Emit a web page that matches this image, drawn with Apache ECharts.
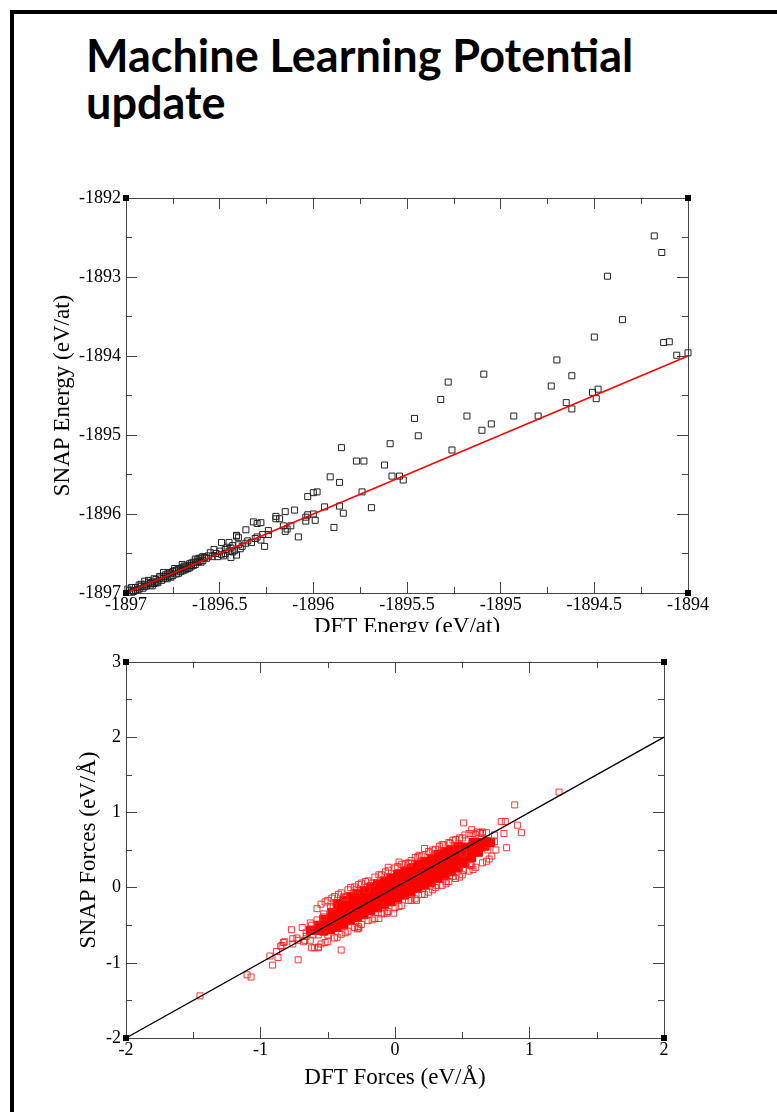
<!DOCTYPE html>
<html>
<head>
<meta charset="utf-8">
<script src="https://cdn.jsdelivr.net/npm/echarts@6/dist/echarts.min.js"></script>
<style>
  html, body { margin: 0; padding: 0; background: #fff; width: 777px; height: 1112px; overflow: hidden; }
  #frame { position: absolute; left: 10px; top: 10px; width: 900px; height: 1200px; border-left: 4px solid #000; border-top: 4px solid #000; }
  #title { position: absolute; left: 86px; top: 32px; font-family: Lato, "Open Sans", sans-serif; font-weight: bold; font-size: 45px; line-height: 47px; color: #000; white-space: nowrap; }
  #c1 { position: absolute; left: 0; top: 180px; width: 777px; height: 452px; }
  #c2 { position: absolute; left: 0; top: 640px; width: 777px; height: 472px; }
</style>
</head>
<body>
<div id="frame"></div>
<div id="title">Machine Learning Potential<br>update</div>
<div id="c1"></div>
<div id="c2"></div>
<script>
// ---------- Energy chart data ----------
const energyXRange = [-1897, -1894];
const energyYRange = [-1897, -1892];
const energyXTitle = 'DFT Energy (eV/at)';
const energyYTitle = 'SNAP Energy (eV/at)';
const energyPoints = [
  [-1896.98,-1896.97],[-1896.96,-1896.98],[-1896.95,-1896.93],[-1896.94,-1896.96],[-1896.92,-1896.92],
  [-1896.91,-1896.94],[-1896.90,-1896.89],[-1896.89,-1896.91],[-1896.88,-1896.87],[-1896.87,-1896.90],
  [-1896.86,-1896.86],[-1896.85,-1896.88],[-1896.84,-1896.83],[-1896.83,-1896.85],[-1896.82,-1896.81],
  [-1896.81,-1896.84],[-1896.80,-1896.79],[-1896.79,-1896.81],[-1896.78,-1896.76],[-1896.77,-1896.79],
  [-1896.76,-1896.75],[-1896.75,-1896.78],[-1896.74,-1896.72],[-1896.73,-1896.76],[-1896.72,-1896.70],
  [-1896.71,-1896.73],[-1896.70,-1896.68],[-1896.69,-1896.71],[-1896.68,-1896.66],[-1896.67,-1896.69],
  [-1896.66,-1896.63],[-1896.65,-1896.66],[-1896.64,-1896.61],[-1896.63,-1896.64],[-1896.62,-1896.58],
  [-1896.61,-1896.60],[-1896.60,-1896.56],[-1896.59,-1896.59],[-1896.58,-1896.55],
  [-1896.93,-1896.90],[-1896.86,-1896.91],[-1896.80,-1896.74],[-1896.74,-1896.69],[-1896.70,-1896.64],
  [-1896.66,-1896.68],[-1896.63,-1896.57],[-1896.78,-1896.82],[-1896.72,-1896.75],[-1896.97,-1896.93],
  [-1896.90,-1896.85],[-1896.84,-1896.87],
  [-1896.99,-1896.95],[-1896.97,-1896.99],[-1896.95,-1896.97],[-1896.93,-1896.95],[-1896.92,-1896.89],
  [-1896.90,-1896.92],[-1896.88,-1896.84],[-1896.87,-1896.88],[-1896.85,-1896.82],[-1896.83,-1896.87],
  [-1896.82,-1896.79],[-1896.80,-1896.82],[-1896.79,-1896.77],[-1896.77,-1896.74],[-1896.76,-1896.80],
  [-1896.75,-1896.73],[-1896.73,-1896.71],[-1896.71,-1896.69],[-1896.70,-1896.72],[-1896.69,-1896.66],
  [-1896.68,-1896.70],[-1896.66,-1896.65],[-1896.65,-1896.62],[-1896.64,-1896.65],[-1896.62,-1896.61],
  [-1896.61,-1896.56],[-1896.60,-1896.61],[-1896.59,-1896.54],[-1896.57,-1896.56],[-1896.56,-1896.53],
  [-1896.52,-1896.50],[-1896.49,-1896.51],[-1896.47,-1896.50],[-1896.54,-1896.54],[-1896.51,-1896.54],
  [-1896.44,-1896.55],[-1896.49,-1896.36],[-1896.45,-1896.36],[-1896.44,-1896.43],[-1896.42,-1896.46],
  [-1896.39,-1896.44],[-1896.41,-1896.28],[-1896.40,-1896.30],[-1896.36,-1896.37],[-1896.31,-1896.31],
  [-1896.28,-1896.33],[-1896.26,-1896.41],[-1896.45,-1896.47],[-1896.47,-1896.45],[-1896.43,-1896.40],
  [-1896.41,-1896.52],[-1896.55,-1896.49],[-1896.53,-1896.45],
  [-1896.50,-1896.47],[-1896.48,-1896.53],[-1896.46,-1896.42],[-1896.43,-1896.48],[-1896.40,-1896.39],
  [-1896.38,-1896.41],[-1896.35,-1896.34],[-1896.33,-1896.36],[-1896.30,-1896.29],[-1896.27,-1896.26],
  [-1896.41,-1896.27],[-1896.36,-1896.20],[-1896.32,-1896.10],[-1896.30,-1896.12],[-1896.28,-1896.11],
  [-1896.24,-1896.21],[-1896.24,-1896.26],[-1896.20,-1896.03],[-1896.18,-1896.06],[-1896.20,-1896.06],
  [-1896.16,-1896.15],[-1896.12,-1896.15],[-1896.14,-1896.19],[-1896.15,-1896.22],[-1896.08,-1896.29],
  [-1896.15,-1895.97],[-1896.10,-1895.95],[-1896.03,-1896.01],[-1896.00,-1896.00],[-1896.04,-1896.04],
  [-1896.04,-1896.09],[-1895.99,-1896.08],[-1896.03,-1895.78],[-1896.00,-1895.73],[-1895.98,-1895.72],
  [-1895.94,-1895.91],[-1895.86,-1895.90],[-1895.84,-1895.99],[-1895.89,-1896.17],[-1895.91,-1895.53],
  [-1895.86,-1895.60],[-1895.74,-1895.72],[-1895.69,-1895.92],[-1895.85,-1895.16],[-1895.77,-1895.33],
  [-1895.73,-1895.33],[-1895.62,-1895.38],[-1895.58,-1895.52],[-1895.54,-1895.52],[-1895.52,-1895.57],
  [-1895.59,-1895.11],[-1895.46,-1894.79],[-1895.44,-1895.01],[-1895.28,-1894.33],[-1895.32,-1894.55],
  [-1895.26,-1895.19],[-1895.18,-1894.76],[-1895.09,-1894.23],[-1895.10,-1894.94],[-1895.05,-1894.86],
  [-1894.93,-1894.76],[-1894.80,-1894.76],[-1894.70,-1894.05],[-1894.73,-1894.38],[-1894.62,-1894.25],
  [-1894.65,-1894.59],[-1894.62,-1894.67],[-1894.51,-1894.46],[-1894.48,-1894.42],[-1894.49,-1894.54],
  [-1894.50,-1893.76],[-1894.43,-1892.99],[-1894.35,-1893.54],[-1894.18,-1892.48],[-1894.14,-1892.69],
  [-1894.13,-1893.83],[-1894.10,-1893.82],[-1894.06,-1893.99],[-1894.00,-1893.96]
];

// ---------- Forces chart data ----------
const forceXRange = [-2, 2];
const forceYRange = [-2, 3];
const forceXTitle = 'DFT Forces (eV/Å)';
const forceYTitle = 'SNAP Forces (eV/Å)';
// dense core of the cloud (overlapping markers appear solid)
const forceCore = [
  [-0.63,-0.57],
  [-0.58,-0.57],[-0.57,-0.50],
  [-0.53,-0.58],[-0.52,-0.50],[-0.53,-0.42],
  [-0.48,-0.56],[-0.47,-0.49],[-0.48,-0.41],[-0.47,-0.33],
  [-0.43,-0.53],[-0.42,-0.45],[-0.43,-0.37],[-0.42,-0.29],[-0.43,-0.21],
  [-0.38,-0.49],[-0.37,-0.41],[-0.38,-0.33],[-0.37,-0.25],[-0.38,-0.17],
  [-0.33,-0.44],[-0.32,-0.36],[-0.33,-0.28],[-0.32,-0.20],[-0.33,-0.12],
  [-0.28,-0.40],[-0.27,-0.32],[-0.28,-0.24],[-0.27,-0.16],[-0.28,-0.08],
  [-0.23,-0.36],[-0.22,-0.28],[-0.23,-0.20],[-0.22,-0.12],[-0.23,-0.04],
  [-0.18,-0.31],[-0.17,-0.23],[-0.18,-0.15],[-0.17,-0.07],[-0.18,0.01],
  [-0.13,-0.27],[-0.12,-0.19],[-0.13,-0.11],[-0.12,-0.03],[-0.13,0.05],
  [-0.08,-0.23],[-0.07,-0.15],[-0.08,-0.07],[-0.07,0.01],[-0.08,0.09],
  [-0.03,-0.19],[-0.02,-0.11],[-0.03,-0.03],[-0.02,0.05],[-0.03,0.13],
  [0.02,-0.14],[0.03,-0.06],[0.02,0.02],[0.03,0.10],[0.02,0.18],
  [0.07,-0.10],[0.08,-0.02],[0.07,0.06],[0.08,0.14],[0.07,0.22],
  [0.12,-0.06],[0.13,0.02],[0.12,0.10],[0.13,0.18],[0.12,0.26],
  [0.17,-0.01],[0.18,0.07],[0.17,0.15],[0.18,0.23],[0.17,0.31],
  [0.22,0.03],[0.23,0.11],[0.22,0.19],[0.23,0.27],[0.22,0.35],
  [0.27,0.07],[0.28,0.15],[0.27,0.23],[0.28,0.31],[0.27,0.39],
  [0.32,0.12],[0.33,0.20],[0.32,0.28],[0.33,0.36],[0.32,0.44],
  [0.37,0.16],[0.38,0.24],[0.37,0.32],[0.38,0.40],[0.37,0.48],
  [0.42,0.21],[0.43,0.28],[0.42,0.36],[0.43,0.44],[0.42,0.51],
  [0.47,0.26],[0.48,0.33],[0.47,0.40],[0.48,0.48],[0.47,0.55],
  [0.52,0.32],[0.53,0.40],[0.52,0.47],[0.53,0.54],
  [0.57,0.40],[0.58,0.47],[0.57,0.54],[0.58,0.60],
  [0.62,0.47],[0.63,0.54],[0.62,0.60],
  [0.67,0.55],[0.68,0.61],
  [0.71,0.60]
];
// scattered points around the core
const forceSpread = [
  [-0.55,-0.22],[-0.50,-0.17],[-0.45,-0.12],[-0.40,-0.07],[-0.35,-0.03],[-0.30,0.01],[-0.25,0.06],
  [-0.20,0.09],[-0.15,0.14],[-0.10,0.17],[-0.05,0.23],[0.00,0.26],[0.05,0.31],[0.10,0.33],[0.15,0.40],
  [0.20,0.42],[0.25,0.48],[0.30,0.51],[0.35,0.57],[0.40,0.60],[0.45,0.64],[0.50,0.66],[0.55,0.72],
  [0.60,0.71],[0.65,0.72],
  [-0.60,-0.80],[-0.55,-0.75],[-0.50,-0.72],[-0.45,-0.67],[-0.40,-0.62],[-0.35,-0.58],[-0.30,-0.53],
  [-0.25,-0.49],[-0.20,-0.44],[-0.15,-0.41],[-0.10,-0.35],[-0.05,-0.32],[0.00,-0.27],[0.05,-0.24],
  [0.10,-0.17],[0.15,-0.15],[0.20,-0.09],[0.25,-0.06],[0.30,0.00],[0.35,0.03],[0.40,0.08],[0.45,0.12],
  [0.50,0.17],[0.55,0.22],[0.60,0.27],[0.65,0.33],[0.70,0.38],
  [-0.58,-0.28],[-0.52,-0.19],[-0.47,-0.14],[-0.42,-0.09],[-0.33,0.00],[-0.27,0.04],[-0.22,0.08],
  [-0.12,0.17],[-0.07,0.21],[0.02,0.28],[0.08,0.32],[0.12,0.36],[0.18,0.43],[0.28,0.50],[0.33,0.55],
  [0.43,0.63],[0.48,0.66],[0.58,0.72],[0.63,0.73],
  [-0.62,-0.80],[-0.52,-0.73],[-0.43,-0.66],[-0.37,-0.60],[-0.27,-0.52],[-0.17,-0.43],[-0.08,-0.34],
  [0.03,-0.25],[0.12,-0.17],[0.22,-0.09],[0.28,-0.03],[0.38,0.05],[0.48,0.14],[0.58,0.24],[0.68,0.35],
  [0.72,0.42],[0.75,0.50],
  [-0.62,-0.50],[-0.58,-0.43],[-0.53,-0.35],[-0.48,-0.27],[-0.66,-0.60],[-0.61,-0.63],
  [1.22,1.27],[0.89,1.10],[0.51,0.86],[0.79,0.88],[0.82,0.88],[0.91,0.83],[0.94,0.73],[0.83,0.53],
  [0.69,0.50],[0.81,0.72],[0.74,0.70],[0.57,0.77],[0.61,0.74],[0.68,0.73],[0.52,0.70],[0.56,0.30],
  [0.31,0.03],[0.16,-0.17],[0.22,0.52],[0.03,0.34],[-0.05,0.27],[-0.06,-0.34],[-0.01,-0.34],
  [-0.29,-0.03],[-0.37,-0.13],[-0.28,-0.55],[-0.40,-0.83],[-0.57,-0.80],[-0.72,-0.96],[-0.63,-0.47],
  [-0.69,-0.53],[-0.77,-0.56],[-0.83,-0.73],[-0.84,-0.77],[-0.76,-0.75],[-0.93,-0.91],[-0.87,-0.93],
  [-0.91,-1.03],[-1.10,-1.16],[-1.07,-1.19],[-0.66,-0.65],[-0.63,-0.70],[-0.68,-0.72],[-1.45,-1.44],
  [-0.88,-0.85],[-0.85,-0.78],[-0.82,-0.72],[-0.76,-0.68],[-0.72,-0.70],[0.65,0.74],[0.74,0.61],
  [0.57,0.29],[0.51,0.46],[-0.12,-0.41],[-0.27,-0.54],[0.17,0.41],[0.11,0.32],[-0.17,0.06],
  [-0.21,-0.03],[-0.29,-0.06],[-0.38,-0.12],[-0.46,-0.25],[-0.53,-0.39],[-0.73,-0.67],[-0.67,-0.70],
  [-0.57,-0.63],[-0.50,-0.63],[-0.57,-0.79],[0.36,0.57],[0.41,0.59],[0.46,0.54],[0.26,0.46],
  [0.38,0.08],[0.43,0.15],[0.51,0.23]
];

const SERIF = '"Liberation Serif", "DejaVu Serif", serif';
const AXIS_COLOR = '#444';

function corners(xr, yr) {
  return [[xr[0], yr[0]], [xr[1], yr[0]], [xr[0], yr[1]], [xr[1], yr[1]]];
}

function axisPair(dim, range, interval, name, nameGap) {
  const base = {
    type: 'value', min: range[0], max: range[1], interval: interval,
    axisLine: { show: true, onZero: false, lineStyle: { color: AXIS_COLOR, width: 1 } },
    axisTick: { show: true, inside: true, length: 11, lineStyle: { color: AXIS_COLOR } },
    minorTick: { show: true, splitNumber: 2, length: 6, lineStyle: { color: AXIS_COLOR } },
    splitLine: { show: false }, minorSplitLine: { show: false }
  };
  const main = Object.assign({}, base, {
    position: dim === 'x' ? 'bottom' : 'left',
    name: name, nameLocation: 'middle', nameGap: nameGap, nameMoveOverlap: false,
    nameTextStyle: { fontFamily: SERIF, fontSize: 23, color: '#000' },
    axisLabel: { show: true, fontFamily: SERIF, fontSize: 18, color: '#000', margin: dim === 'x' ? 3 : 5,
      showMinLabel: true, showMaxLabel: true, hideOverlap: false,
      formatter: function (v) { return String(v); } }
  });
  const mirror = Object.assign({}, base, {
    position: dim === 'x' ? 'top' : 'right',
    axisLabel: { show: false }
  });
  return [main, mirror];
}

function buildOption(cfg) {
  return {
    animation: false,
    grid: Object.assign({ outerBoundsMode: 'none', containLabel: false }, cfg.grid),
    xAxis: axisPair('x', cfg.xr, cfg.xi, cfg.xName, cfg.xGap),
    yAxis: axisPair('y', cfg.yr, cfg.yi, cfg.yName, cfg.yGap),
    series: cfg.series.concat([
      {
        type: 'line', xAxisIndex: 0, yAxisIndex: 0, symbol: 'none', silent: true,
        data: [[cfg.xr[0], cfg.xr[0]], [cfg.xr[1], cfg.xr[1]]],
        lineStyle: { color: cfg.lineColor, width: 1.4 }, z: 5
      },
      {
        type: 'scatter', xAxisIndex: 0, yAxisIndex: 0, symbol: 'rect', symbolSize: 6, silent: true,
        clip: false, data: corners(cfg.xr, cfg.yr), itemStyle: { color: '#000', opacity: 1 }, z: 6
      }
    ])
  };
}

const chart1 = echarts.init(document.getElementById('c1'), null, { renderer: 'canvas' });
chart1.setOption(buildOption({
  grid: { left: 126, top: 18, width: 562, height: 395 },
  xr: energyXRange, yr: energyYRange, xi: 0.5, yi: 1,
  xName: energyXTitle, yName: energyYTitle, xGap: 22, yGap: 52,
  lineColor: '#ff0000',
  series: [{
    type: 'scatter', xAxisIndex: 0, yAxisIndex: 0, symbol: 'rect', symbolSize: 6,
    data: energyPoints,
    itemStyle: { color: 'rgba(0,0,0,0)', borderColor: '#222', borderWidth: 1, opacity: 1 }
  }]
}));

const chart2 = echarts.init(document.getElementById('c2'), null, { renderer: 'canvas' });
chart2.setOption(buildOption({
  grid: { left: 126, top: 22, width: 538, height: 376 },
  xr: forceXRange, yr: forceYRange, xi: 1, yi: 1,
  xName: forceXTitle, yName: forceYTitle, xGap: 28, yGap: 26,
  lineColor: '#000000',
  series: [
    {
      type: 'scatter', xAxisIndex: 0, yAxisIndex: 0, symbol: 'rect', symbolSize: 8,
      data: forceCore,
      itemStyle: { color: '#ff0000', borderColor: '#ff0000', borderWidth: 1, opacity: 1 }
    },
    {
      type: 'scatter', xAxisIndex: 0, yAxisIndex: 0, symbol: 'rect', symbolSize: 6,
      data: forceSpread,
      itemStyle: { color: 'rgba(255,0,0,0)', borderColor: '#ff2020', borderWidth: 1, opacity: 0.9 }
    }
  ]
}));
</script>
</body>
</html>
